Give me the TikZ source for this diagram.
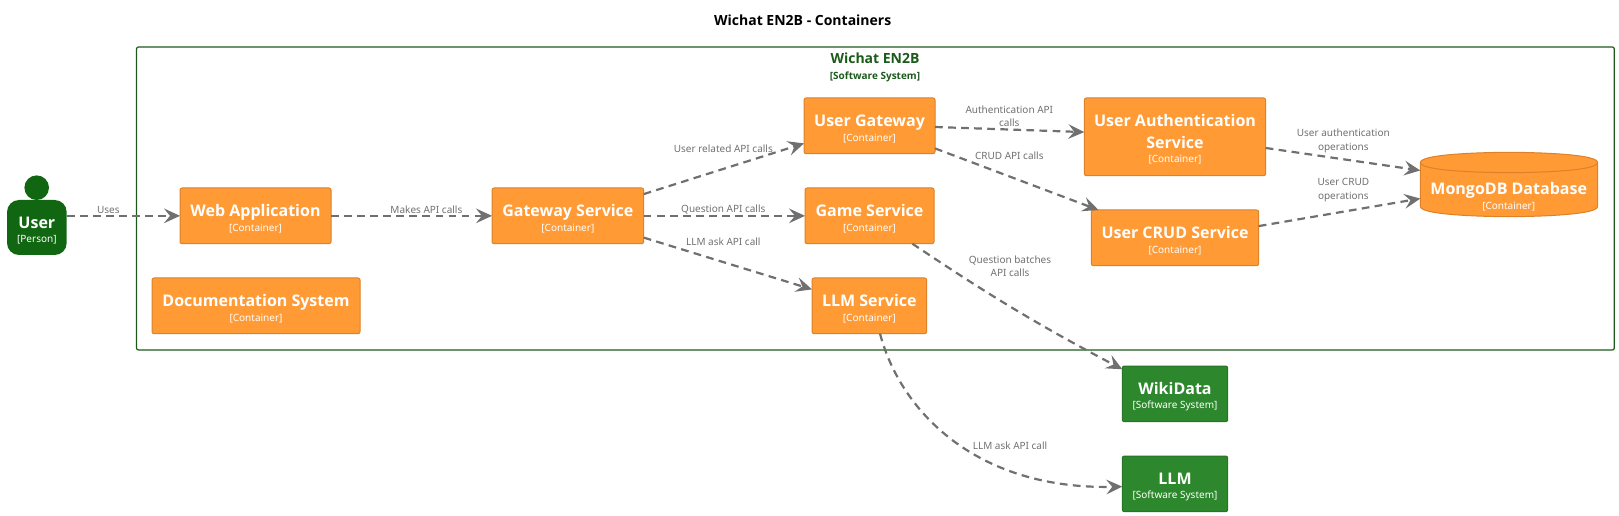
\documentclass[tikz,border=0pt]{standalone}
\usepackage{fontspec}
\setmainfont[BoldFont={Open Sans Bold}]{Noto Sans}
\usepackage{xcolor}
\usepackage{tikz}
\usetikzlibrary{arrows.meta}
\definecolor{containerfill}{RGB}{255, 154, 53}
\definecolor{containerline}{RGB}{219, 130, 42}
\definecolor{personfill}{RGB}{17, 102, 17}
\definecolor{systemfill}{RGB}{45, 136, 45}
\definecolor{systemline}{RGB}{38, 116, 38}
\definecolor{boundaryline}{RGB}{28, 90, 28}
\definecolor{relgray}{RGB}{112, 112, 112}
\newcommand{\namefont}{\fontsize{12}{16}\selectfont\bfseries}
\newcommand{\elemtext}[2]{\rule{0pt}{13.2pt}\namefont #1\\[-1pt]\fontsize{7.5}{11}\selectfont\mdseries [#2]}
\tikzset{
    elem/.style 2 args={rectangle, rounded corners=1.5pt, inner sep=0pt, outer sep=0pt, align=center,
        text=white, line width=0.75pt, minimum width=#1*0.75pt, minimum height=#2*0.75pt},
    container/.style 2 args={elem={#1}{#2}, fill=containerfill, draw=containerline},
    softsystem/.style 2 args={elem={#1}{#2}, fill=systemfill, draw=systemline},
    rel/.style={-{Stealth[length=12pt, width=11pt, inset=4.5pt]}, relgray, line width=1.65pt, dash pattern=on 5.8pt off 4pt},
    rellabel/.style={text=relgray, align=center, inner sep=0pt, font=\fontsize{7.5}{10}\selectfont}
}

\begin{document}
\begin{tikzpicture}[x=0.75pt, y=-0.75pt, line join=round]
    \useasboundingbox (0,0) rectangle (1619,516);

    % Title
    \node[inner sep=0pt, font=\fontsize{10.5}{13}\selectfont\bfseries] (title) at (802.7,20) {Wichat EN2B - Containers};

    % Boundary of the system
    \node[draw=boundaryline, line width=0.9pt, rectangle, rounded corners=1.5pt, minimum width=1477.8*0.75pt, minimum height=303*0.75pt, inner sep=0pt] (boundary) at (875.4,198.5) {};
    \node[inner sep=0pt, text=boundaryline, align=center, font=\fontsize{10.5}{13}\selectfont\bfseries] (boundarytitle) at (875,67.5)
        {Wichat EN2B\\[-1pt]{\fontsize{7.5}{10}\selectfont [Software System]}};

    % Person
    \fill[personfill] (36.7,187.7) circle[radius=12.3];
    \node[rectangle, rounded corners=9pt, fill=personfill, text=white, align=center, inner sep=0pt, minimum width=59.7*0.75pt, minimum height=55*0.75pt] (user) at (36.85,227.5)
        {\elemtext{User}{Person}};

    % Containers
    \node[container={151}{55.7}] (web) at (255.5,215.85) {\elemtext{Web Application}{Container}};
    \node[container={208}{55.7}] (docs) at (256,305.85) {\elemtext{Documentation System}{Container}};
    \node[container={151.7}{55.7}] (gateway) at (567.85,215.85) {\elemtext{Gateway Service}{Container}};
    \node[container={131}{55.7}] (usergw) at (869.5,125.85) {\elemtext{User Gateway}{Container}};
    \node[container={129}{55.7}] (game) at (869.5,215.85) {\elemtext{Game Service}{Container}};
    \node[container={114.7}{55.7}] (llmsrv) at (869.35,305.85) {\elemtext{LLM Service}{Container}};
    \node[container={181.4}{77.7}] (auth) at (1175,136.85) {\elemtext{User Authentication\\[4pt]\namefont Service}{Container}};
    \node[container={167.4}{55.7}] (crud) at (1175,237.85) {\elemtext{User CRUD Service}{Container}};

    % Database
    \draw[fill=containerfill, draw=containerline, line width=0.75pt] (1420.3,162.5) .. controls (1420.3,152.3) and (1509,152.3) .. (1509,152.3)
        .. controls (1509,152.3) and (1597.7,152.3) .. (1597.7,162.5) -- (1597.7,206.5)
        .. controls (1597.7,216.7) and (1509,216.7) .. (1509,216.7)
        .. controls (1509,216.7) and (1420.3,216.7) .. (1420.3,206.5) -- cycle;
    \draw[draw=containerline, line width=0.75pt] (1420.3,162.5) .. controls (1420.3,172.7) and (1509,172.7) .. (1509,172.7)
        .. controls (1509,172.7) and (1597.7,172.7) .. (1597.7,162.5);
    \node[rectangle, inner sep=0pt, outer sep=0pt, minimum width=177.4*0.75pt, minimum height=64.4*0.75pt] (mongo) at (1509,184.5) {};
    \node[inner sep=0pt, text=white, align=center] (mongotext) at (1508.7,194) {\elemtext{MongoDB Database}{Container}};

    % External systems
    \node[softsystem={105.4}{55.7}] (wiki) at (1175,393.85) {\elemtext{WikiData}{Software System}};
    \node[softsystem={105.4}{55.7}] (llm) at (1175,483.85) {\elemtext{LLM}{Software System}};

    % Relations
    \draw[rel] (user.east |- web.west) -- (web.west);
    \draw[rel] (web.east) -- (gateway.west);
    \draw[rel] (gateway.16.8) -- (usergw.195.7);
    \draw[rel] (gateway.east) -- (game.west);
    \draw[rel] (gateway.-16.8) -- (llmsrv.164.6);
    \draw[rel] (usergw.-1.9) -- (auth.177.8);
    \draw[rel] (usergw.-19.5) -- (crud.160.35);
    \draw[rel] (auth.-7.8) -- (mongo.171.1);
    \draw[rel] (crud.8.7) -- (mongo.189.5);
    \draw[rel] (game.-33.4) to[bend right=3] (wiki.155.6);
    \draw[rel] (llmsrv.-69.1) .. controls (900,410) and (975,490) .. (llm.183.7);

    % Relation labels
    \node[rellabel] (l1) at (108.3,209.5) {Uses};
    \node[rellabel] (l2) at (426.4,209.5) {Makes API calls};
    \node[rellabel] (l3) at (723.3,149) {User related API calls};
    \node[rellabel] (l4) at (723.3,209.5) {Question API calls};
    \node[rellabel] (l5) at (723.3,241.5) {LLM ask API call};
    \node[rellabel] (l6) at (1009.3,116) {Authentication API\\calls};
    \node[rellabel] (l7) at (1009.3,156) {CRUD API calls};
    \node[rellabel] (l8) at (1343.3,141) {User authentication\\operations};
    \node[rellabel] (l9) at (1343.3,190) {User CRUD\\operations};
    \node[rellabel] (l10) at (1010,266) {Question batches\\API calls};
    \node[rellabel] (l11) at (1010,445.3) {LLM ask API call};
\end{tikzpicture}
\end{document}
